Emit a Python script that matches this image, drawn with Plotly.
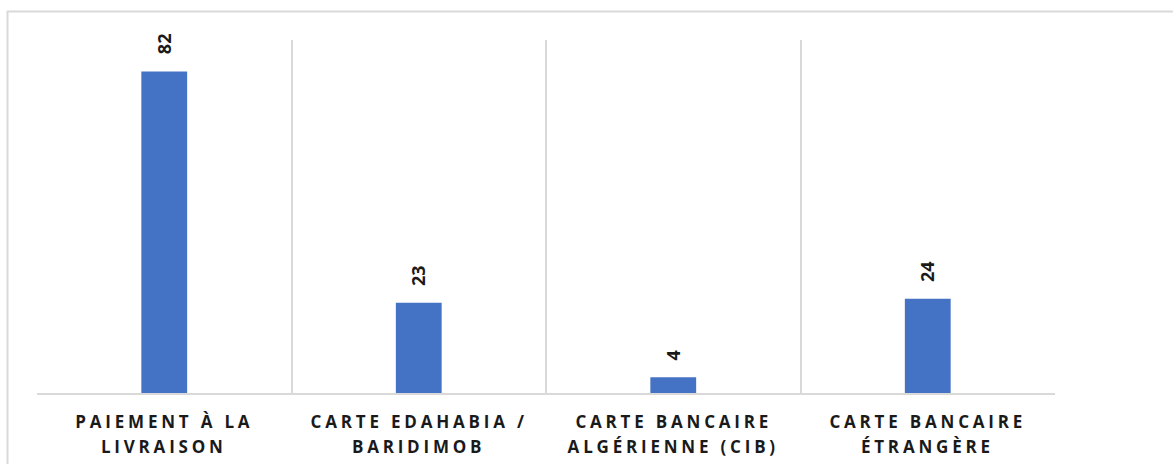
import plotly.graph_objects as go

categories = [
    "PAIEMENT À LA LIVRAISON",
    "CARTE EDAHABIA / BARIDIMOB",
    "CARTE BANCAIRE ALGÉRIENNE (CIB)",
    "CARTE BANCAIRE ÉTRANGÈRE",
]
label_line1 = ["PAIEMENT À LA", "CARTE EDAHABIA /", "CARTE BANCAIRE", "CARTE BANCAIRE"]
label_line2 = ["LIVRAISON", "BARIDIMOB", "ALGÉRIENNE (CIB)", "ÉTRANGÈRE"]
values = [82, 23, 4, 24]

W, H = 1173, 464
ML, MR, MT, MB = 37, 118, 40, 71
pw = W - ML - MR
ph = H - MT - MB

def px_x(x):
    return (x - ML) / pw

def px_y(y):
    return (H - MB - y) / ph

fig = go.Figure()
fig.add_trace(go.Bar(
    x=categories, y=values,
    marker=dict(color="#4472C4", line=dict(width=0)),
    width=0.18,
    hoverinfo="x+y",
))

lab_font = dict(family="Open Sans", size=17, color="#1a1a1a", weight="bold")
# category labels: annotations 0..7 (letter-spaced via CSS)
for c, l1, l2 in zip(categories, label_line1, label_line2):
    fig.add_annotation(x=c, y=0, text=l1, showarrow=False, yanchor="top",
                       yshift=-15, xshift=0, font=lab_font)
    fig.add_annotation(x=c, y=0, text=l2, showarrow=False, yanchor="top",
                       yshift=-40, xshift=0, font=lab_font)

for c, v in zip(categories, values):
    fig.add_annotation(
        x=c, y=v, text=f"<b>{v}</b>", showarrow=False,
        textangle=-90, yanchor="bottom", yshift=15,
        font=dict(family="Open Sans", size=18, color="#1a1a1a"),
    )

border = "#d9d9d9"
fig.add_shape(type="line", xref="paper", yref="paper",
              x0=px_x(7), x1=px_x(1180), y0=px_y(11.5), y1=px_y(11.5),
              line=dict(color=border, width=2))
fig.add_shape(type="line", xref="paper", yref="paper",
              x0=px_x(7.5), x1=px_x(7.5), y0=px_y(11), y1=px_y(470),
              line=dict(color=border, width=2))

fig.update_layout(
    width=W, height=H,
    margin=dict(l=ML, r=MR, t=MT, b=MB),
    paper_bgcolor="white", plot_bgcolor="white",
    showlegend=False,
    xaxis=dict(
        type="category", tickson="boundaries",
        showgrid=True, gridcolor=border, gridwidth=1.5,
        showline=True, linecolor=border, linewidth=2,
        ticks="", showticklabels=False,
        range=[-0.5, 3.5],
    ),
    yaxis=dict(
        range=[0, 90], showgrid=False, showticklabels=False,
        zeroline=False, showline=False, ticks="",
    ),
)

sel = ",".join(f"g.annotation[data-index=\"{i}\"] text" for i in range(8))
css = ("var s=document.createElement('style');"
       "s.innerHTML='" + sel.replace("'", "\\'") + "{letter-spacing:3.8px;}';"
       "document.head.appendChild(s);")
fig.write_html("out.html", post_script=css)
